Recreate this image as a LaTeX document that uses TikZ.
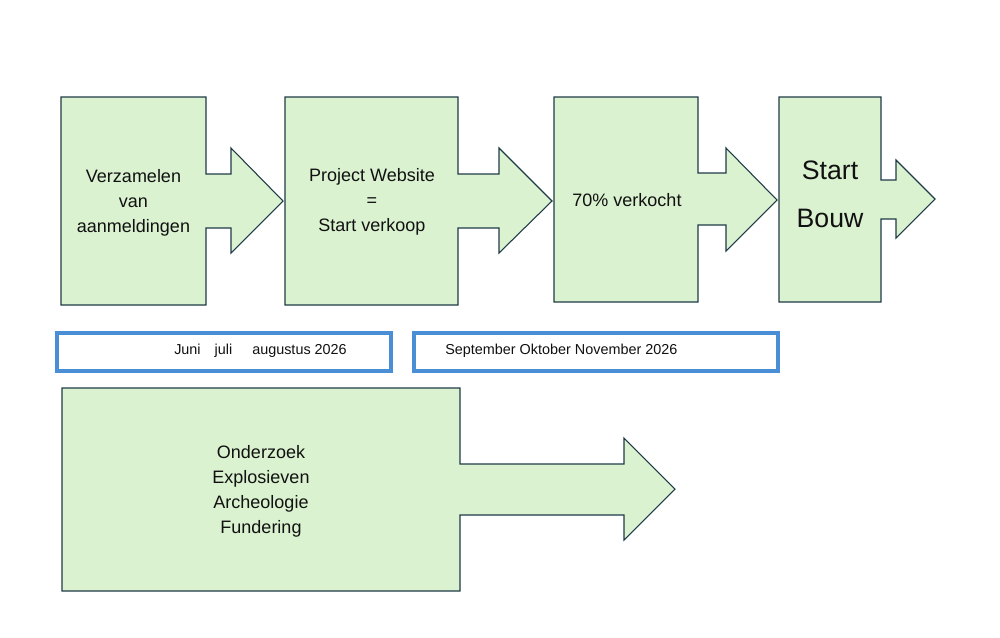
\documentclass[tikz,border=0pt]{standalone}
\usepackage{fontspec}
\setmainfont{Liberation Sans}
\definecolor{boxfill}{HTML}{DAF2D0}
\definecolor{boxline}{HTML}{1F3A47}
\definecolor{monthline}{HTML}{4A8FD6}
\definecolor{txt}{HTML}{111111}
\begin{document}
\begin{tikzpicture}[x=0.75pt,y=-0.75pt,
  callout/.style={fill=boxfill,draw=boxline,line width=0.8pt,line join=miter},
  lbl/.style={text=txt,align=center,inner sep=0pt,font=\fontsize{13.5}{18.8}\selectfont},
  bigl/.style={text=txt,align=center,inner sep=0pt,font=\fontsize{20}{36}\selectfont},
  monthbox/.style={draw=monthline,line width=2.3pt,fill=white},
  monthtxt/.style={text=txt,inner sep=0pt,anchor=west,font=\fontsize{10.8}{13}\selectfont}]
\useasboundingbox (0,0) rectangle (1000,637);
% callouts
\draw[callout] (61,97) -- (206,97) -- (206,174) -- (231,174) -- (231,148) -- (283,201) -- (231,253) -- (231,228) -- (206,228) -- (206,305) -- (61,305) -- cycle;
\draw[callout] (285,97) -- (458,97) -- (458,174) -- (499,174) -- (499,148) -- (552,201) -- (499,253) -- (499,228) -- (458,228) -- (458,305) -- (285,305) -- cycle;
\draw[callout] (554,97) -- (698,97) -- (698,173) -- (726,173) -- (726,148) -- (777,200) -- (726,251) -- (726,225) -- (698,225) -- (698,302) -- (554,302) -- cycle;
\draw[callout] (779,97) -- (881,97) -- (881,180) -- (896,180) -- (896,160) -- (935,199) -- (896,238) -- (896,219) -- (881,219) -- (881,302) -- (779,302) -- cycle;
\draw[callout] (62,388) -- (460,388) -- (460,464) -- (624,464) -- (624,438) -- (675,489) -- (624,540) -- (624,515) -- (460,515) -- (460,591) -- (62,591) -- cycle;
% month boxes
\draw[monthbox] (57,333) rectangle (391,371);
\draw[monthbox] (414,333) rectangle (778,371);
% texts
\node[lbl] (t1) at (133.5,202.5) {Verzamelen\\van\\aanmeldingen};
\node[lbl] (t2) at (372,201.5) {Project Website\\=\\Start verkoop};
\node[lbl] (t3) at (627,200) {70\% verkocht};
\node[bigl] (t4) at (830,194) {Start\\Bouw};
\node[lbl] (t5) at (261,491.5) {Onderzoek\\Explosieven\\Archeologie\\Fundering};
\node[monthtxt] (m1) at (174,351) {Juni\hspace{10.5pt}juli\hspace{15pt}augustus 2026};
\node[monthtxt] (m2) at (445,350.5) {September Oktober November 2026};
\end{tikzpicture}
\end{document}
